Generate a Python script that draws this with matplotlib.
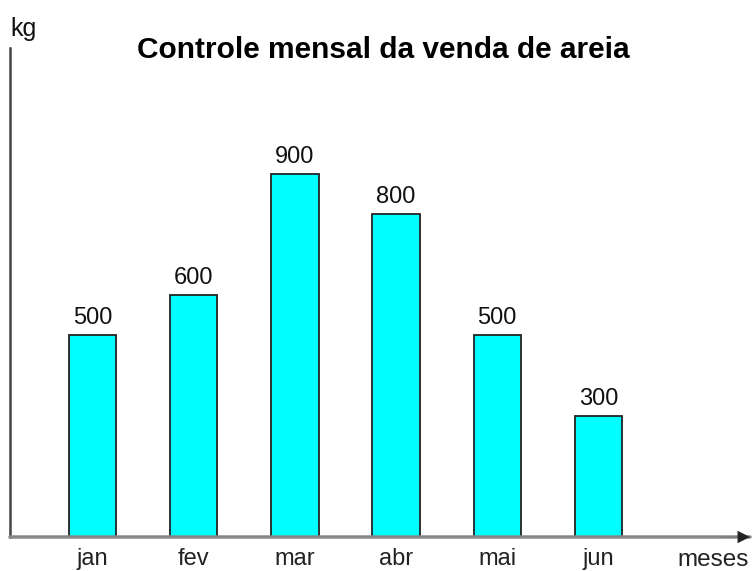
import matplotlib
matplotlib.use("Agg")
import matplotlib.pyplot as plt

meses = ["jan", "fev", "mar", "abr", "mai", "jun"]
vendas = [500, 600, 900, 800, 500, 300]
titulo = "Controle mensal da venda de areia"

plt.rcParams['font.family'] = ['Liberation Sans', 'DejaVu Sans']

fig = plt.figure(figsize=(7.55, 5.71), dpi=100)
W, H = 755, 571
ax_left, ax_right = 10, 750
ax_bottom, ax_top = 537, 48
ax = fig.add_axes([ax_left / W, (H - ax_bottom) / H,
                   (ax_right - ax_left) / W, (ax_bottom - ax_top) / H])

x = list(range(len(meses)))
bars = ax.bar(x, vendas, width=0.47, color="#00FFFF", edgecolor="#222222", linewidth=1.3, zorder=3)
for xi, v in zip(x, vendas):
    ax.text(xi, v + 16, str(v), ha="center", va="bottom", fontsize=17, color="#111111")

ax.set_xlim(-0.815, 6.497)
ax.set_ylim(0, 1213)
ax.set_xticks(x)
ax.set_xticklabels(meses, fontsize=17, color="#222222")
ax.set_yticks([])
ax.tick_params(axis="x", length=0, pad=8)
for s in ["top", "right"]:
    ax.spines[s].set_visible(False)
ax.spines["left"].set_color("#444444")
ax.spines["left"].set_linewidth(1.8)
ax.spines["bottom"].set_visible(False)
ax.annotate("", xy=(1.0, 0), xytext=(0, 0), xycoords="axes fraction",
            arrowprops=dict(arrowstyle="-", color="#888888", lw=2.5,
                            shrinkA=0, shrinkB=0))
ax.annotate("", xy=(1.0, 0), xytext=(0.96, 0), xycoords="axes fraction",
            arrowprops=dict(arrowstyle="-|>", color="#222222", lw=0.1,
                            mutation_scale=22, shrinkA=0, shrinkB=0))

fig.text(10 / W, 1 - 29 / H, "kg", fontsize=18, ha="left", va="center", color="#111111")
fig.text(713 / W, 1 - 560 / H, "meses", fontsize=17.5, ha="center", va="center", color="#222222")
fig.text(383 / W, 1 - 50 / H, titulo, fontsize=21.5, fontweight="bold", ha="center", va="center")

fig.savefig("out.png", dpi=100)
